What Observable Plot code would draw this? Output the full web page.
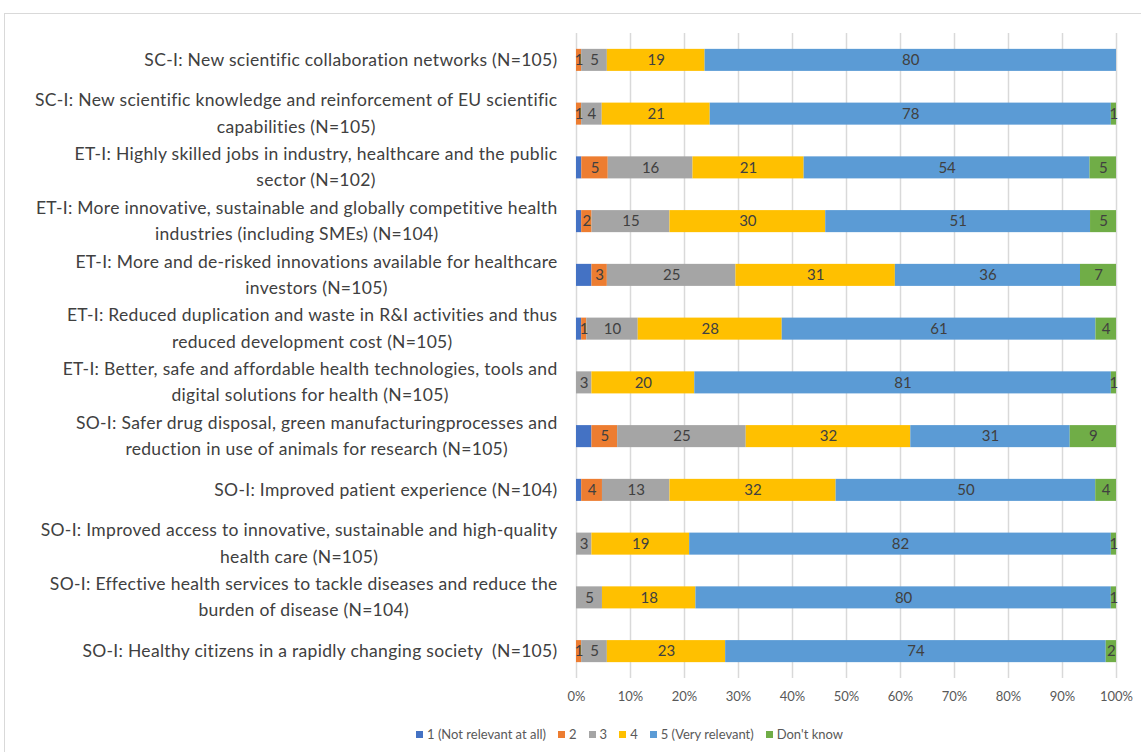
<!DOCTYPE html>
<html>
<head>
<meta charset="utf-8">
<script src="https://cdn.jsdelivr.net/npm/d3@7"></script>
<script src="https://cdn.jsdelivr.net/npm/@observablehq/plot@0.6"></script>
<style>
  html, body { margin: 0; padding: 0; background: #fff; overflow: hidden; width: 1141px; height: 752px; }
  #frame { position: absolute; left: 4px; top: 13px; width: 1200px; height: 800px; border: 1px solid #d9d9d9; box-sizing: border-box; }
  #chart { position: absolute; left: 0; top: 0; }
  #legend { position: absolute; left: 59px; width: 1141px; top: 726px; display: flex; justify-content: center; align-items: center;
            font-family: Lato, "Liberation Sans", sans-serif; font-size: 13px; color: #595959; }
  .item { display: flex; align-items: center; margin: 0 6px; }
  .sw { width: 7px; height: 7px; margin-right: 4px; }
</style>
</head>
<body>
<div id="frame"></div>
<div id="chart"></div>
<div id="legend"></div>
<script>
const categories = [
  "SC-I: New scientific collaboration networks (N=105)",
  "SC-I: New scientific knowledge and reinforcement of EU scientific\ncapabilities (N=105)",
  "ET-I: Highly skilled jobs in industry, healthcare and the public\nsector (N=102)",
  "ET-I: More innovative, sustainable and globally competitive health\nindustries (including SMEs) (N=104)",
  "ET-I: More and de-risked innovations available for healthcare\ninvestors (N=105)",
  "ET-I: Reduced duplication and waste in R&I activities and thus\nreduced development cost (N=105)",
  "ET-I: Better, safe and affordable health technologies, tools and\ndigital solutions for health (N=105)",
  "SO-I: Safer drug disposal, green manufacturingprocesses and\nreduction in use of animals for research (N=105)",
  "SO-I: Improved patient experience (N=104)",
  "SO-I: Improved access to innovative, sustainable and high-quality\nhealth care (N=105)",
  "SO-I: Effective health services to tackle diseases and reduce the\nburden of disease (N=104)",
  "SO-I: Healthy citizens in a rapidly changing society  (N=105)"
];
const seriesNames = ["1 (Not relevant at all)", "2", "3", "4", "5 (Very relevant)", "Don't know"];
const seriesColors = ["#4472C4", "#ED7D31", "#A5A5A5", "#FFC000", "#5B9BD5", "#70AD47"];
const s1  = [0, 0, 1, 1, 3, 1, 0, 3, 1, 0, 0, 0];
const s2  = [1, 1, 5, 2, 3, 1, 0, 5, 4, 0, 0, 1];
const s3  = [5, 4, 16, 15, 25, 10, 3, 25, 13, 3, 5, 5];
const s4  = [19, 21, 21, 30, 31, 28, 20, 32, 32, 19, 18, 23];
const s5  = [80, 78, 54, 51, 36, 61, 81, 31, 50, 82, 80, 74];
const sDK = [0, 1, 5, 5, 7, 4, 1, 9, 4, 1, 1, 2];
const xTicks = [0, 0.1, 0.2, 0.3, 0.4, 0.5, 0.6, 0.7, 0.8, 0.9, 1];

const seriesValues = [s1, s2, s3, s4, s5, sDK];
const rows = [];
seriesNames.forEach((s, si) => {
  categories.forEach((c, ci) => {
    rows.push({cat: c, series: s, value: seriesValues[si][ci], labelled: si > 0});
  });
});

const FONT = "Lato, 'Liberation Sans', sans-serif";

const plot = Plot.plot({
  width: 1141,
  height: 712,
  marginLeft: 576,
  marginRight: 25,
  marginTop: 33,
  marginBottom: 34,
  style: {fontFamily: FONT, background: "transparent"},
  x: {domain: [0, 1]},
  y: {domain: categories, padding: 0.59, paddingOuter: 0.295, round: false},
  color: {domain: seriesNames, range: seriesColors},
  marks: [
    Plot.gridX(xTicks, {stroke: "#d9d9d9", strokeOpacity: 1, strokeWidth: 1.5}),
    Plot.barX(rows, Plot.stackX({offset: "normalize", x: "value", y: "cat", z: "series", fill: "series", order: seriesNames})),
    Plot.text(rows, Plot.stackX({offset: "normalize", x: "value", y: "cat", z: "series", order: seriesNames,
      text: d => (d.labelled && d.value > 0) ? String(d.value) : "",
      fill: "#404040", fontSize: 15})),
    Plot.axisX({ticks: xTicks, tickFormat: d3.format(".0%"), tickSize: 0, tickPadding: 13, fontSize: 13, color: "#595959", label: null}),
    Plot.axisY({tickSize: 0, tickPadding: 19, dy: -3, fontSize: 17.5, lineHeight: 1.5, color: "#404040", label: null, textOverflow: null})
  ]
});
document.getElementById("chart").appendChild(plot);

// y labels: slight letter spacing, wrapped lines centred under each other with the block right-aligned
plot.querySelectorAll('g[aria-label="y-axis tick label"] text').forEach(t => {
  t.style.letterSpacing = "0.3px";
  const spans = t.querySelectorAll("tspan");
  if (spans.length < 2) return;
  const bb = t.getBBox();
  const right = bb.x + bb.width;
  let maxW = 0;
  spans.forEach(s => { maxW = Math.max(maxW, s.getComputedTextLength()); });
  t.setAttribute("text-anchor", "middle");
  spans.forEach(s => s.setAttribute("x", right - maxW / 2));
});

const legend = document.getElementById("legend");
seriesNames.forEach((s, i) => {
  const item = document.createElement("div");
  item.className = "item";
  const sw = document.createElement("span");
  sw.className = "sw";
  sw.style.background = seriesColors[i];
  const lab = document.createElement("span");
  lab.textContent = s;
  item.appendChild(sw);
  item.appendChild(lab);
  legend.appendChild(item);
});
</script>
</body>
</html>
